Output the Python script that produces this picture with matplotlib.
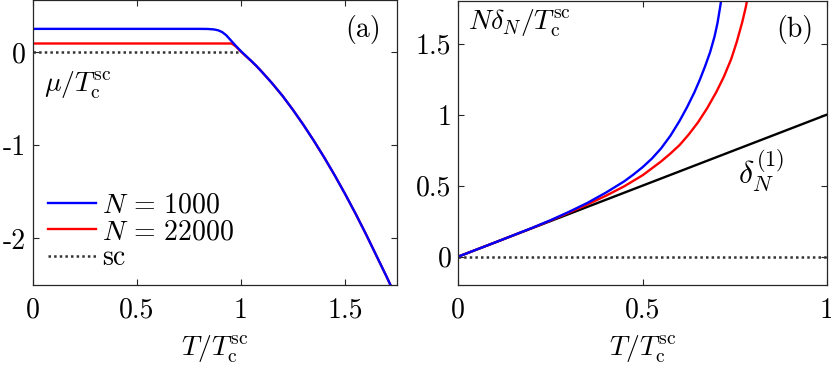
"""Chemical potential and level spacing vs temperature, panels (a) and (b)."""

# ---------- Imports ---------- #
import matplotlib
matplotlib.use("Agg")
import matplotlib.pyplot as plt

# ---------- Data ---------- #
# panel (a): mu / Tc^sc vs T / Tc^sc
T_a_1000 = [0.0, 0.80, 0.84, 0.87, 0.89, 0.91, 0.93, 0.95, 0.975, 1.0, 1.025,
            1.05, 1.075, 1.1, 1.15, 1.2, 1.25, 1.3, 1.35, 1.4, 1.45, 1.5,
            1.55, 1.6, 1.65, 1.7, 1.75]
mu_1000 = [0.25, 0.25, 0.249, 0.244, 0.235, 0.215, 0.18, 0.13, 0.068, 0.01, -0.043,
           -0.095, -0.15, -0.21, -0.335, -0.47, -0.62, -0.78, -0.95, -1.13, -1.32, -1.52,
           -1.73, -1.95, -2.18, -2.41, -2.65]
T_a_22000 = [0.0, 0.955, 0.975, 1.0, 1.025, 1.05, 1.075, 1.1, 1.15, 1.2, 1.25,
             1.3, 1.35, 1.4, 1.45, 1.5, 1.55, 1.6, 1.65, 1.7, 1.75]
mu_22000 = [0.093, 0.093, 0.062, 0.005, -0.046, -0.097, -0.151, -0.21, -0.335, -0.47, -0.62,
            -0.78, -0.95, -1.13, -1.32, -1.52, -1.73, -1.95, -2.18, -2.41, -2.65]
T_a_sc = [0.0, 1.0]
mu_sc = [0.0, 0.0]

# panel (b): N delta_N / Tc^sc vs T / Tc^sc
T_b_1000 = [0.0, 0.1, 0.2, 0.25, 0.3, 0.35, 0.4, 0.45, 0.475, 0.5, 0.525, 0.55,
            0.575, 0.6, 0.62, 0.64, 0.655, 0.67, 0.683, 0.695, 0.703, 0.71, 0.717]
d_1000 = [0.0, 0.1, 0.202, 0.256, 0.315, 0.378, 0.45, 0.53, 0.578, 0.63, 0.69, 0.762,
          0.85, 0.955, 1.05, 1.155, 1.245, 1.345, 1.44, 1.55, 1.645, 1.755, 1.875]
T_b_22000 = [0.0, 0.1, 0.2, 0.25, 0.3, 0.35, 0.4, 0.45, 0.5, 0.55, 0.575,
             0.6, 0.625, 0.65, 0.675, 0.7, 0.72, 0.74, 0.755, 0.77, 0.78, 0.787]
d_22000 = [0.0, 0.1, 0.201, 0.254, 0.31, 0.367, 0.428, 0.495, 0.573, 0.67, 0.725,
           0.785, 0.86, 0.945, 1.045, 1.16, 1.265, 1.39, 1.51, 1.65, 1.76, 1.86]
T_b_lin = [0.0, 1.0]
d_lin = [0.0, 1.0]
T_b_sc = [0.0, 1.0]
d_sc = [0.0, 0.0]

# ticks
xticks_a = [0, 0.5, 1, 1.5]
xlabels_a = ["0", "0.5", "1", "1.5"]
yticks_a = [-2, -1, 0]
ylabels_a = ["-2", "-1", "0"]
xticks_b = [0, 0.5, 1]
xlabels_b = ["0", "0.5", "1"]
yticks_b = [0, 0.5, 1, 1.5]
ylabels_b = ["0", "0.5", "1", "1.5"]

# ---------- Style ---------- #
plt.rcParams["font.family"] = ["cmr10", "DejaVu Serif"]
plt.rcParams["mathtext.fontset"] = "cm"
plt.rcParams["axes.unicode_minus"] = False
plt.rcParams["axes.linewidth"] = 0.9
plt.rcParams["axes.edgecolor"] = "#262626"

FS = 20
LW = 1.7
SC_COLOR = "#333333"
SC_STYLE = (0, (1, 1.25))


def style_axes(ax, xt, xl, yt, yl):
    """MATLAB-like box with inward ticks."""
    ax.set_xticks(xt, xl)
    ax.set_yticks(yt, yl)
    ax.tick_params(direction="in", top=True, right=True, length=4.5,
                   width=0.8, color="#262626", labelsize=FS)
    ax.tick_params(axis="x", pad=9)
    ax.tick_params(axis="y", pad=5)
    ax.set_xlabel(r"$T/T_{\mathrm{c}}^{\mathrm{sc}}$", fontsize=FS, labelpad=7)


# ---------- Main ---------- #
def main():
    fig = plt.figure(figsize=(8.31, 3.66), dpi=100)
    ax_a = fig.add_axes([0.0397, 0.2213, 0.438, 0.7787])
    ax_b = fig.add_axes([0.5515, 0.2213, 0.4437, 0.7760])

    # panel (a)
    l_red, = ax_a.plot(T_a_22000, mu_22000, color="red", lw=LW, label=r"$N\,=\,22000$")
    l_blue, = ax_a.plot(T_a_1000, mu_1000, color="blue", lw=LW, label=r"$N\,=\,1000$")
    l_sc, = ax_a.plot(T_a_sc, mu_sc, color=SC_COLOR, lw=1.8, ls=SC_STYLE, label="sc")
    ax_a.set_xlim(0, 1.75)
    ax_a.set_ylim(-2.5, 0.56)
    style_axes(ax_a, xticks_a, xlabels_a, yticks_a, ylabels_a)
    ax_a.text(0.03, 0.70, r"$\mu/T_{\mathrm{c}}^{\mathrm{sc}}$", transform=ax_a.transAxes,
              fontsize=FS, va="center", ha="left")
    ax_a.text(0.908, 0.898, "(a)", transform=ax_a.transAxes, fontsize=FS,
              va="center", ha="center")
    ax_a.legend(handles=[l_blue, l_red, l_sc], loc="upper left",
                bbox_to_anchor=(0.04, 0.325), frameon=False, fontsize=FS,
                handlelength=1.75, handletextpad=0.2, labelspacing=0.0,
                borderpad=0, borderaxespad=0)

    # panel (b)
    ax_b.plot(T_b_sc, d_sc, color=SC_COLOR, lw=1.8, ls=SC_STYLE)
    ax_b.plot(T_b_lin, d_lin, color="black", lw=LW)
    ax_b.plot(T_b_22000, d_22000, color="red", lw=LW)
    ax_b.plot(T_b_1000, d_1000, color="blue", lw=LW)
    ax_b.set_xlim(0, 1)
    ax_b.set_ylim(-0.2, 1.8)
    style_axes(ax_b, xticks_b, xlabels_b, yticks_b, ylabels_b)
    ax_b.text(0.026, 0.92, r"$N\delta_N/T_{\mathrm{c}}^{\mathrm{sc}}$", transform=ax_b.transAxes,
              fontsize=FS, va="center", ha="left")
    ax_b.text(0.913, 0.898, "(b)", transform=ax_b.transAxes, fontsize=FS,
              va="center", ha="center")
    ax_b.text(0.821, 0.404, r"$\delta_N^{(1)}$", transform=ax_b.transAxes,
              fontsize=23, va="center", ha="center")

    fig.savefig("out.png", dpi=100)
    plt.close(fig)
    return 0


if __name__ == "__main__":
    main()
